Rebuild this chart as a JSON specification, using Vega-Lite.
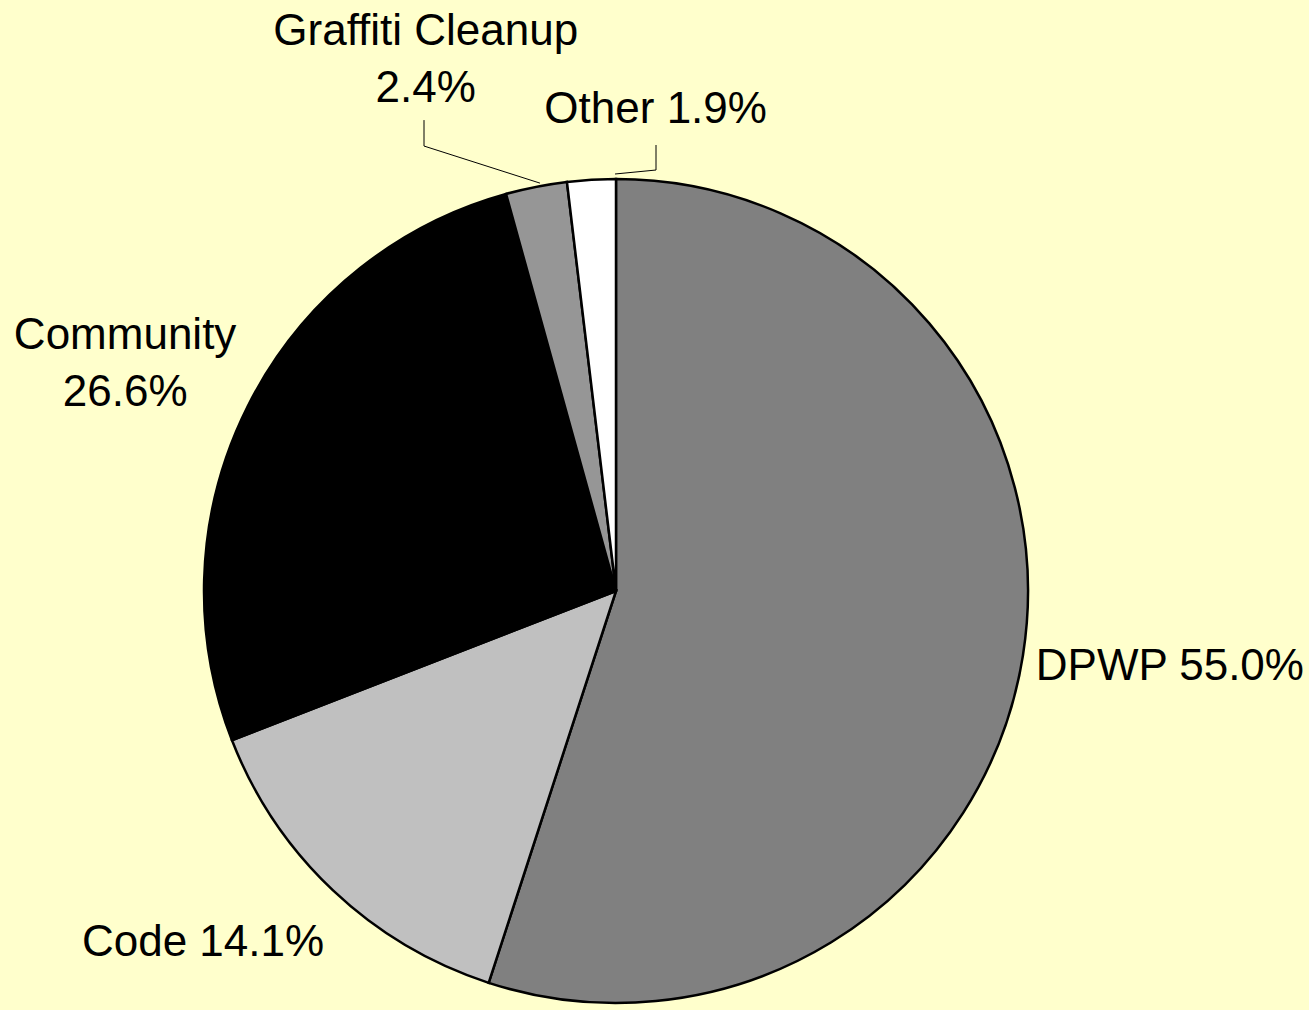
{
  "$schema": "https://vega.github.io/schema/vega-lite/v6.json",
  "autosize": {"type": "none"},
  "width": 1232,
  "height": 838,
  "padding": {"left": 0, "right": 77, "top": 172, "bottom": 0},
  "background": "#FFFFCC",
  "config": {"view": {"stroke": null}, "text": {"font": "Liberation Sans", "fontSize": 44, "fill": "#000000", "lineBreak": "\n", "lineHeight": 57}},
  "datasets": {
    "slices": [
      {"cat": "DPWP", "share": 55.0, "idx": 1, "label": "DPWP 55.0%"},
      {"cat": "Code", "share": 14.1, "idx": 2, "label": "Code 14.1%"},
      {"cat": "Community", "share": 26.6, "idx": 3, "label": "Community\n26.6%"},
      {"cat": "Graffiti Cleanup", "share": 2.4, "idx": 4, "label": "Graffiti Cleanup\n2.4%"},
      {"cat": "Other", "share": 1.9, "idx": 5, "label": "Other 1.9%"}
    ],
    "leaders": [
      {"leader": "Graffiti Cleanup", "seq": 1, "x": -0.466, "y": 1.143},
      {"leader": "Graffiti Cleanup", "seq": 2, "x": -0.466, "y": 1.080},
      {"leader": "Graffiti Cleanup", "seq": 3, "x": -0.1845, "y": 0.990},
      {"leader": "Other", "seq": 1, "x": 0.0971, "y": 1.0825},
      {"leader": "Other", "seq": 2, "x": 0.0971, "y": 1.0218},
      {"leader": "Other", "seq": 3, "x": -0.0024, "y": 1.0121}
    ]
  },
  "data": {"name": "slices"},
  "layer": [
    {
      "mark": {"type": "arc", "radius": 412, "stroke": "#000000", "strokeWidth": 2.5, "strokeJoin": "miter"},
      "encoding": {
        "theta": {"field": "share", "type": "quantitative", "stack": true},
        "order": {"field": "idx", "type": "quantitative"},
        "color": {
          "field": "cat", "type": "nominal", "legend": null,
          "scale": {
            "domain": ["DPWP", "Code", "Community", "Graffiti Cleanup", "Other"],
            "range": ["#808080", "#C0C0C0", "#000000", "#969696", "#FFFFFF"]
          }
        }
      }
    },
    {
      "mark": {"type": "text", "radius": 425, "align": "left", "baseline": "middle", "dy": 10},
      "encoding": {
        "theta": {"field": "share", "type": "quantitative", "stack": true},
        "order": {"field": "idx", "type": "quantitative"},
        "text": {"condition": {"test": "datum.cat === 'DPWP'", "field": "label"}, "value": ""}
      }
    },
    {
      "mark": {"type": "text", "radius": 425, "align": "right", "baseline": "middle", "dy": 43},
      "encoding": {
        "theta": {"field": "share", "type": "quantitative", "stack": true},
        "order": {"field": "idx", "type": "quantitative"},
        "text": {"condition": {"test": "datum.cat === 'Code'", "field": "label"}, "value": ""}
      }
    },
    {
      "mark": {"type": "text", "radius": 425, "align": "center", "baseline": "middle", "dx": -111, "dy": -64},
      "encoding": {
        "theta": {"field": "share", "type": "quantitative", "stack": true},
        "order": {"field": "idx", "type": "quantitative"},
        "text": {"condition": {"test": "datum.cat === 'Community'", "field": "label"}, "value": ""}
      }
    },
    {
      "mark": {"type": "text", "radius": 425, "align": "center", "baseline": "middle", "dx": -108, "dy": -142},
      "encoding": {
        "theta": {"field": "share", "type": "quantitative", "stack": true},
        "order": {"field": "idx", "type": "quantitative"},
        "text": {"condition": {"test": "datum.cat === 'Graffiti Cleanup'", "field": "label"}, "value": ""}
      }
    },
    {
      "mark": {"type": "text", "radius": 425, "align": "center", "baseline": "middle", "dx": 65, "dy": -57},
      "encoding": {
        "theta": {"field": "share", "type": "quantitative", "stack": true},
        "order": {"field": "idx", "type": "quantitative"},
        "text": {"condition": {"test": "datum.cat === 'Other'", "field": "label"}, "value": ""}
      }
    },
    {
      "data": {"name": "leaders"},
      "mark": {"type": "line", "stroke": "#000000", "strokeWidth": 1, "clip": false},
      "encoding": {
        "x": {"field": "x", "type": "quantitative", "axis": null, "scale": {"domain": [-1.4951, 1.4951], "nice": false, "zero": false}},
        "y": {"field": "y", "type": "quantitative", "axis": null, "scale": {"domain": [-1.01699, 1.01699], "nice": false, "zero": false}},
        "detail": {"field": "leader", "type": "nominal"},
        "order": {"field": "seq", "type": "quantitative"}
      }
    }
  ]
}
